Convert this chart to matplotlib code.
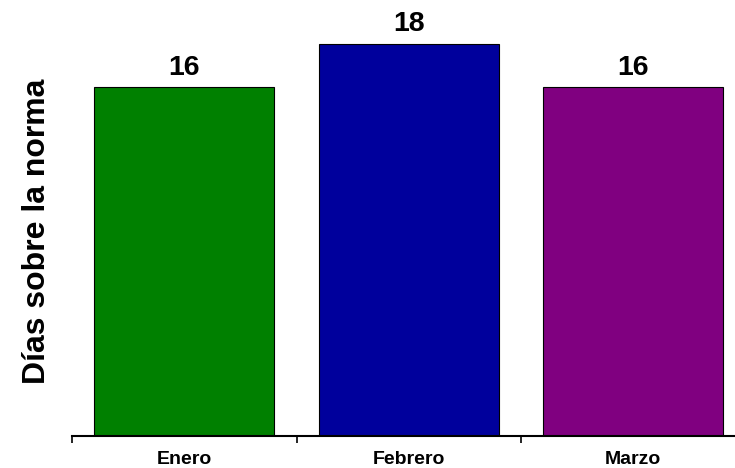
import matplotlib.pyplot as plt
import numpy as np

months = ['Enero', 'Febrero', 'Marzo']
days = [16, 18, 16]
colors = ['#008000', '#00009c', '#800080']

plt.rcParams['font.family'] = ['Liberation Sans', 'DejaVu Sans']

fig = plt.figure(figsize=(7.35, 4.68), dpi=100)
ax = fig.add_axes([72 / 735, 32 / 468, 673.5 / 735, 436 / 468])

x = np.arange(len(months))
bars = ax.bar(x, days, width=0.8, color=colors, edgecolor='black', linewidth=0.8)
for b, v in zip(bars, days):
    ax.text(b.get_x() + b.get_width() / 2, v + 0.3, str(v), ha='center', va='bottom',
            fontsize=20.5, fontweight='bold')

ax.set_xlim(-0.5, 2.5)
ax.set_ylim(0, 20)
ax.set_xticks(x)
ax.set_xticklabels(months, fontsize=14, fontweight='bold')
ax.tick_params(axis='x', which='major', length=0, pad=11)
ax.set_xticks([-0.5, 0.5, 1.5, 2.5], minor=True)
ax.tick_params(axis='x', which='minor', length=5, width=1.2, direction='out')
ax.set_yticks([])
for s in ['top', 'right', 'left']:
    ax.spines[s].set_visible(False)
ax.spines['bottom'].set_linewidth(1.5)

fig.text(37 / 735, 1 - 231 / 468, 'Días sobre la norma', rotation=90, ha='center', va='center',
         fontsize=23, fontweight='bold')

fig.savefig('out.png', dpi=100)
